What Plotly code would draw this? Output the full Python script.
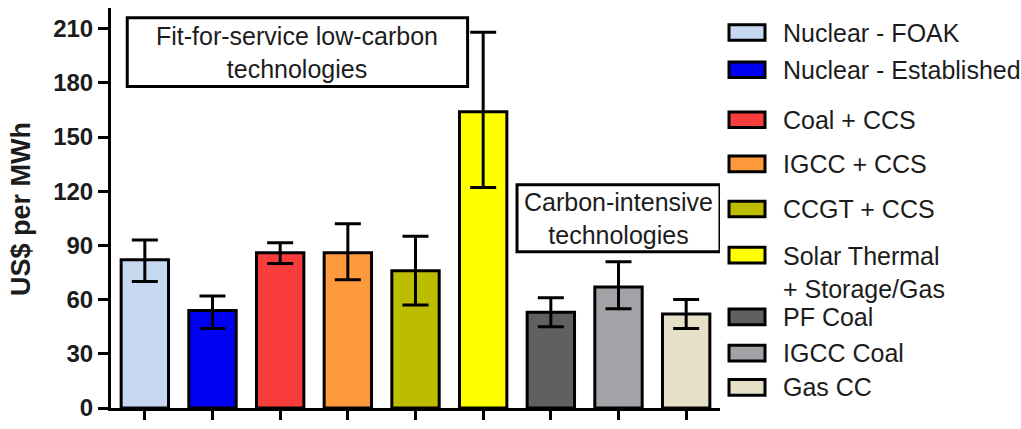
import plotly.graph_objects as go

# Levelised cost of electricity by technology (US$ per MWh)
technologies = [
    "Nuclear - FOAK", "Nuclear - Established", "Coal + CCS", "IGCC + CCS",
    "CCGT + CCS", "Solar Thermal<br>+ Storage/Gas", "PF Coal", "IGCC Coal", "Gas CC",
]
mean_cost = [82, 54, 86, 86, 76, 164, 53, 67, 52]
upper_cost = [93, 62, 91.5, 102, 95, 208, 61, 81, 60]
lower_cost = [70, 44, 80, 71, 57, 122, 45, 55, 44]
colors = ["#C6D9F1", "#0000F2", "#F93C3C", "#FF9A3C", "#BDBD00",
          "#FFFF00", "#606060", "#A3A3A7", "#E6E0C8"]
y_ticks = [0, 30, 60, 90, 120, 150, 180, 210]

err_plus = [u - m for u, m in zip(upper_cost, mean_cost)]
err_minus = [m - l for m, l in zip(mean_cost, lower_cost)]
xpos = list(range(len(technologies)))

FONT = "Liberation Sans, Arial, sans-serif"
TXT = "#1c1c1c"
LW = 3

fig = go.Figure()
fig.add_trace(go.Bar(
    x=xpos, y=mean_cost, width=0.7,
    marker=dict(color=colors, line=dict(color="black", width=LW)),
    error_y=dict(type="data", symmetric=False, array=err_plus, arrayminus=err_minus,
                 color="black", thickness=LW, width=13),
    showlegend=False, hoverinfo="skip",
))

# Plot-area geometry (pixels) used to place the hand-built legend
W, H = 1021, 429
L, R, T, B = 111, 301, 8, 13
pw, ph = W - L - R, H - T - B


def px_x(px):
    return (px - L) / pw


def px_y(py):
    return (H - B - py) / ph


shapes = []
annotations = []

# Group label boxes
group_boxes = [
    dict(x0=-0.26, x1=4.77, y0=178, y1=216,
         text="Fit-for-service low-carbon<br>technologies", xc=2.255, yc=197),
    dict(x0=5.5, x1=8.5, y0=86.5, y1=123.5,
         text="Carbon-intensive<br>technologies", xc=7.0, yc=105),
]
for g in group_boxes:
    shapes.append(dict(type="rect", xref="x", yref="y", x0=g["x0"], x1=g["x1"],
                       y0=g["y0"], y1=g["y1"], line=dict(color="black", width=3),
                       fillcolor="white", layer="above"))
    annotations.append(dict(x=g["xc"], y=g["yc"], xref="x", yref="y", text=g["text"],
                            showarrow=False, font=dict(family=FONT, size=25, color=TXT),
                            xanchor="center", yanchor="middle"))

# Legend: swatch + label per technology
legend_rows = [33, 71, 122, 167, 213, 260, 323, 360, 395]
for name, col, yc in zip(technologies, colors, legend_rows):
    shapes.append(dict(type="rect", xref="paper", yref="paper",
                       x0=px_x(729), x1=px_x(765), y0=px_y(yc + 8), y1=px_y(yc - 8),
                       line=dict(color="black", width=3), fillcolor=col))
    annotations.append(dict(x=px_x(781), y=px_y(yc), xref="paper", yref="paper",
                            text=name, showarrow=False, align="left",
                            xanchor="left", yanchor="top" if "<br>" in name else "middle",
                            yshift=15 if "<br>" in name else 0,
                            font=dict(family=FONT, size=25, color=TXT)))

# Y-axis title
annotations.append(dict(x=px_x(21), y=px_y(213), xref="paper", yref="paper",
                        text="<b>US$ per MWh</b>", textangle=-90, showarrow=False,
                        font=dict(family=FONT, size=27, color=TXT),
                        xanchor="center", yanchor="middle"))

fig.update_layout(
    width=W, height=H,
    margin=dict(l=L, r=R, t=T, b=B, pad=0),
    paper_bgcolor="white", plot_bgcolor="white",
    shapes=shapes, annotations=annotations,
    xaxis=dict(range=[-0.5, 8.5], tickvals=xpos, showticklabels=False,
               ticks="outside", ticklen=9, tickwidth=LW, tickcolor="black",
               showline=True, linecolor="black", linewidth=LW,
               showgrid=False, zeroline=False, fixedrange=True),
    yaxis=dict(range=[0, 221.4], tickvals=y_ticks, ticktext=[f"<b>{v}</b>" for v in y_ticks],
               ticks="outside", ticklen=10, tickwidth=LW, tickcolor="black",
               showline=True, linecolor="black", linewidth=LW,
               tickfont=dict(family=FONT, size=24, color=TXT),
               showgrid=False, zeroline=False, fixedrange=True),
    bargap=0.3,
)

fig.write_html("out.html")
